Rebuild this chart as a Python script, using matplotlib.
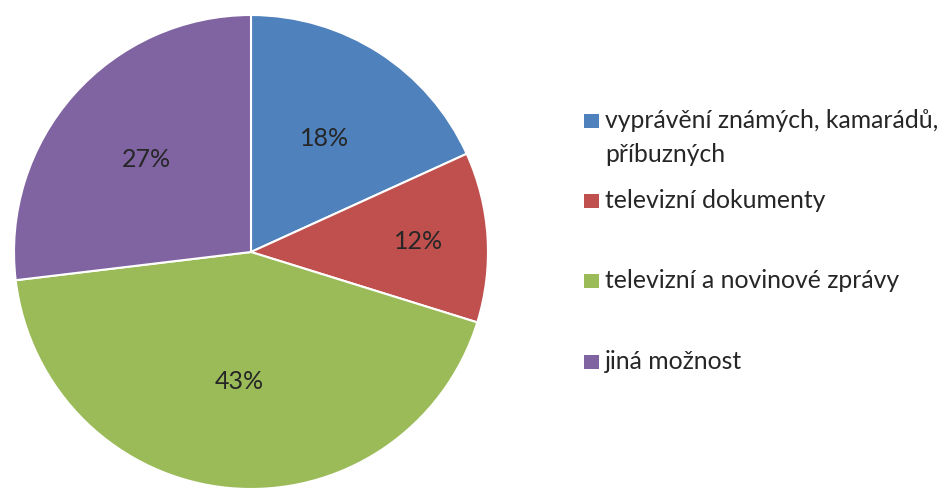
import matplotlib.pyplot as plt
from matplotlib.patches import Rectangle
import numpy as np

plt.rcParams['font.family'] = ['Lato', 'DejaVu Sans']

categories = ["vyprávění známých, kamarádů,\npříbuzných", "televizní dokumenty",
              "televizní a novinové zprávy", "jiná možnost"]
values = [18.2, 11.6, 43.3, 26.9]
pct_labels = ["18%", "12%", "43%", "27%"]
colors = ["#4F81BD", "#C0504D", "#9BBB59", "#8064A2"]
label_dist = [0.57, 0.71, 0.55, 0.59]
legend_base = [128, 208, 288, 369]

W, H = 942, 490
fig = plt.figure(figsize=(W / 100, H / 100), dpi=100)
cx, cy, r = 251, 252, 237
ax = fig.add_axes([(cx - r) / W, (H - cy - r) / H, 2 * r / W, 2 * r / H])
wedges, _ = ax.pie(values, colors=colors, startangle=90, counterclock=False,
                   wedgeprops=dict(edgecolor='white', linewidth=1.5))
ax.set_xlim(-1, 1)
ax.set_ylim(-1, 1)
ax.set_aspect('equal')
ax.axis('off')

for w, lab, d in zip(wedges, pct_labels, label_dist):
    ang = np.deg2rad((w.theta1 + w.theta2) / 2)
    ax.text(d * np.cos(ang), d * np.sin(ang), lab, ha='center', va='center',
            fontsize=18, color='#262626')

for cat, col, yb in zip(categories, colors, legend_base):
    fig.add_artist(Rectangle((584 / W, 1 - yb / H), 15 / W, 14 / H,
                             transform=fig.transFigure, facecolor=col, edgecolor='none'))
    lines = cat.split("\n")
    for i, line in enumerate(lines):
        fig.text(605 / W, 1 - (yb + 34 * i) / H, line, ha='left', va='baseline',
                 fontsize=17.8, color='#262626')

fig.savefig('out.png', dpi=100)
